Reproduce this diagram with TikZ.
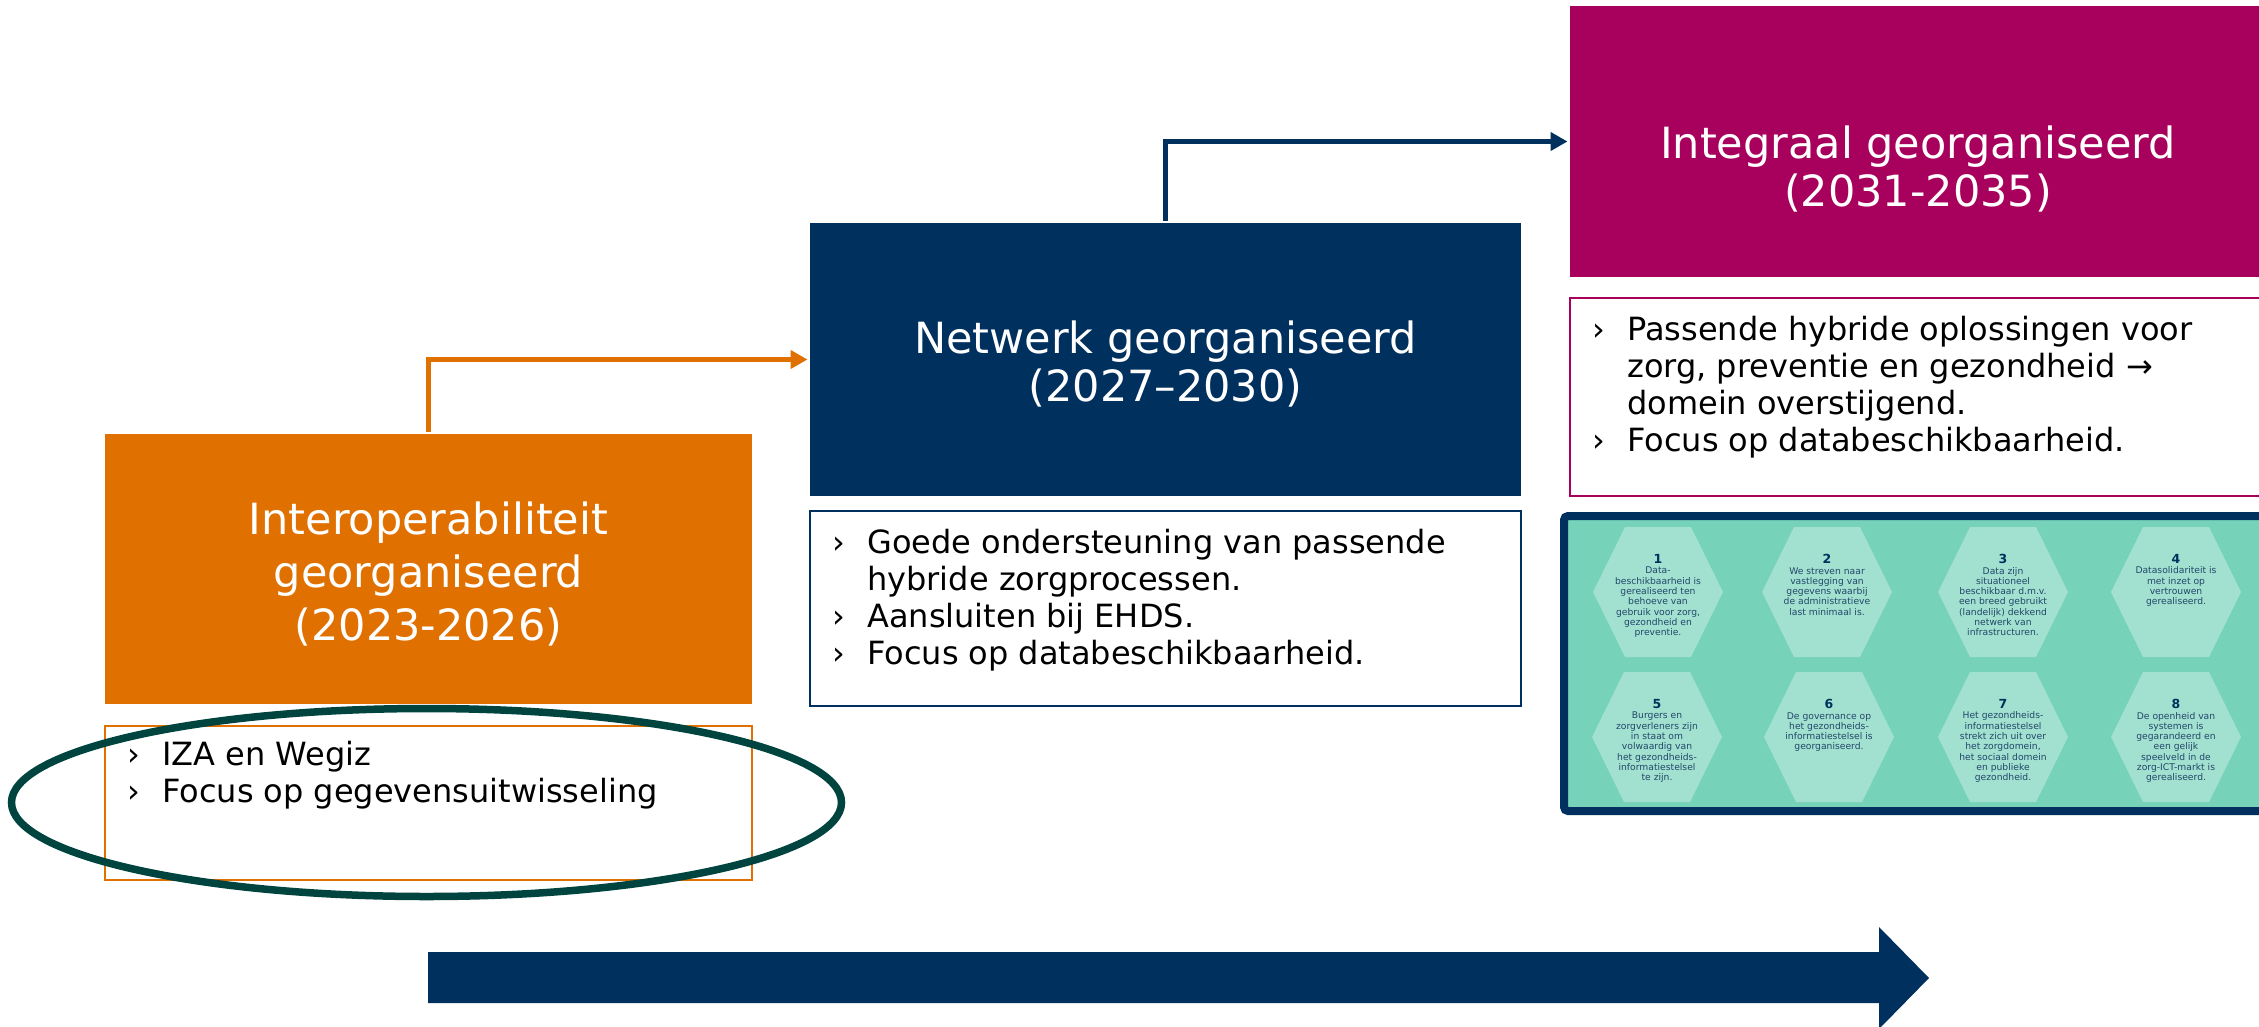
\documentclass[tikz,border=0pt]{standalone}
\usepackage{fontspec}
\setmainfont{DejaVu Sans}
\usetikzlibrary{positioning,calc,arrows.meta}
\definecolor{iporange}{HTML}{E07000}
\definecolor{nwnavy}{HTML}{00305E}
\definecolor{igmagenta}{HTML}{A8005D}
\definecolor{pillarteal}{HTML}{76D2B8}
\definecolor{hexfill}{HTML}{A2E0CF}
\definecolor{hexink}{HTML}{23476B}
\definecolor{markteal}{HTML}{004440}
\newcommand{\bul}{\makebox[35pt][l]{›}}
\newcommand{\ind}{\hspace*{35pt}}

\begin{document}
\begin{tikzpicture}[x=1pt,y=-1pt,line width=5pt,>={Triangle[length=17pt,width=18pt]},
	phase/.style={inner sep=0,text=white,align=center,font=\fontsize{43}{48}\selectfont},
	notes/.style={draw,line width=2.5pt,inner sep=0,fill=white},
	bullets/.style={inner sep=0,align=left,anchor=north west,font=\fontsize{32}{37}\selectfont},
	hexagon/.style={fill=hexfill,draw=none},
	hextext/.style={inner sep=0,anchor=north,align=center,text=hexink,font=\fontsize{9.2}{10.3}\selectfont}]

	\useasboundingbox (0,0) rectangle (2259,1026);

	% phase 1
	\node[fill=iporange,inner sep=0,minimum width=647pt,minimum height=270pt] (iop) at (428.5,569) {};
	\node[phase,font=\fontsize{43}{53}\selectfont] (ioptitle) at ($(iop.center)+(0,5)$) {Interoperabiliteit\\georganiseerd\\(2023-2026)};
	\node[notes,draw=iporange,minimum width=647pt,minimum height=154pt] (iopnotes) at (428.5,803) {};
	\node[bullets] (iopitems) at ($(iopnotes.north west)+(21,14)$) {\bul IZA en Wegiz\\\bul Focus op gegevensuitwisseling};

	% phase 2
	\node[fill=nwnavy,inner sep=0,minimum width=711pt,minimum height=273pt] (nw) at (1165.5,359.5) {};
	\node[phase] (nwtitle) at ($(nw.center)+(0,4)$) {Netwerk georganiseerd\\(2027–2030)};
	\node[notes,draw=nwnavy,minimum width=711pt,minimum height=195pt] (nwnotes) at (1165.5,608.5) {};
	\node[bullets] (nwitems) at ($(nwnotes.north west)+(21,17)$) {\bul Goede ondersteuning van passende\\\ind hybride zorgprocessen.\\\bul Aansluiten bij EHDS.\\\bul Focus op databeschikbaarheid.};

	% phase 3
	\node[fill=igmagenta,inner sep=0,minimum width=696pt,minimum height=271pt] (ig) at (1918,141.5) {};
	\node[phase] (igtitle) at ($(ig.center)+(0,27.5)$) {Integraal georganiseerd\\(2031-2035)};
	\node[notes,draw=igmagenta,minimum width=696pt,minimum height=198pt] (ignotes) at (1918,397) {};
	\node[bullets] (igitems) at ($(ignotes.north west)+(21,17)$) {\bul Passende hybride oplossingen voor\\\ind zorg, preventie en gezondheid →\\\ind domein overstijgend.\\\bul Focus op databeschikbaarheid.};

	% the eight pillars
	\node[draw=nwnavy,fill=pillarteal,line width=8pt,rounded corners=4pt,inner sep=0,minimum width=726pt,minimum height=295pt] (pillars) at (1927,663.5) {};
	\foreach \n/\cx/\cy/\txt in {
		1/1658/592/{Data-\\beschikbaarheid is\\gerealiseerd ten\\behoeve van\\gebruik voor zorg,\\gezondheid en\\preventie.},
		2/1827/592/{We streven naar\\vastlegging van\\gegevens waarbij\\de administratieve\\last minimaal is.},
		3/2003/592/{Data zijn\\situationeel\\beschikbaar d.m.v.\\een breed gebruikt\\(landelijk) dekkend\\netwerk van\\infrastructuren.},
		4/2176/592/{Datasolidariteit is\\met inzet op\\vertrouwen\\gerealiseerd.},
		5/1657/737/{Burgers en\\zorgverleners zijn\\in staat om\\volwaardig van\\het gezondheids-\\informatiestelsel\\te zijn.},
		6/1829/737/{De governance op\\het gezondheids-\\informatiestelsel is\\georganiseerd.},
		7/2003/737/{Het gezondheids-\\informatiestelsel\\strekt zich uit over\\het zorgdomein,\\het sociaal domein\\en publieke\\gezondheid.},
		8/2176/737/{De openheid van\\systemen is\\gegarandeerd en\\een gelijk\\speelveld in de\\zorg-ICT-markt is\\gerealiseerd.}} {
		\fill[hexagon] (\cx-65,\cy) -- ++(32,-65) -- ++(66,0) -- ++(32,65) -- ++(-32,65) -- ++(-66,0) -- cycle;
		\node[hextext] (hex\n) at (\cx,\cy-40) {{\fontsize{12.5}{10}\selectfont\bfseries\color{nwnavy}\n}\\\txt};
	}

	% steps between the phases
	\draw[->,iporange] (iop.north) |- (nw.west);
	\draw[->,nwnavy] (nw.north) |- (ig.west);

	% time arrow
	\fill[nwnavy] (428,952) -- (1879,952) -- (1879,927) -- (1929,978) -- (1879,1029) -- (1879,1003) -- (428,1003) -- cycle;

	% highlight of the current phase
	\draw[markteal,line width=7.5pt] (426.5,802.5) ellipse [x radius=415, y radius=94];

\end{tikzpicture}
\end{document}
